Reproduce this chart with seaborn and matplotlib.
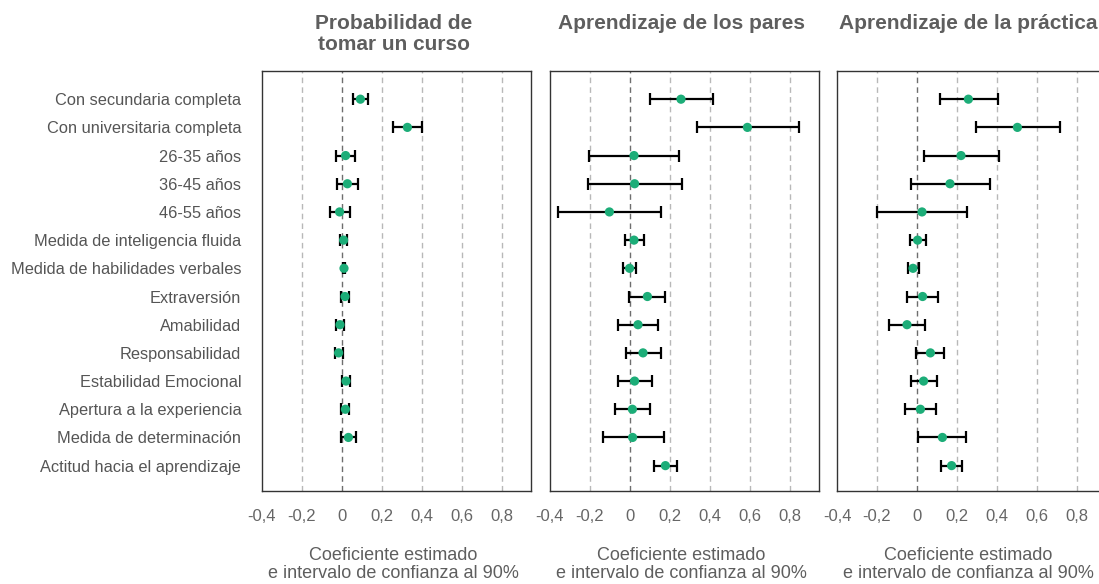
import numpy as np
import pandas as pd
import matplotlib
matplotlib.use("Agg")
import matplotlib.pyplot as plt
import seaborn as sns

# Variables (rows, top to bottom)
variables = [
    "Con secundaria completa", "Con universitaria completa", "26-35 años",
    "36-45 años", "46-55 años", "Medida de inteligencia fluida",
    "Medida de habilidades verbales", "Extraversión", "Amabilidad",
    "Responsabilidad", "Estabilidad Emocional", "Apertura a la experiencia",
    "Medida de determinación", "Actitud hacia el aprendizaje",
]

panel_titles = [["Probabilidad de", "tomar un curso"],
                ["Aprendizaje de los pares"],
                ["Aprendizaje de la práctica"]]

# Panel 1: probabilidad de tomar un curso (no estimate for the last row)
curso_est = [0.092, 0.327, 0.018, 0.027, -0.012, 0.008, 0.010, 0.015,
             -0.010, -0.017, 0.020, 0.017, 0.032, np.nan]
curso_lo = [0.053, 0.253, -0.030, -0.025, -0.060, -0.008, 0.003, -0.005,
            -0.028, -0.035, 0.002, -0.003, -0.003, np.nan]
curso_hi = [0.132, 0.402, 0.067, 0.078, 0.038, 0.027, 0.017, 0.035,
            0.012, 0.003, 0.038, 0.037, 0.070, np.nan]

# Panel 2: aprendizaje de los pares
pares_est = [0.255, 0.587, 0.020, 0.023, -0.103, 0.020, -0.002, 0.087,
             0.040, 0.065, 0.023, 0.012, 0.013, 0.177]
pares_lo = [0.098, 0.333, -0.203, -0.208, -0.362, -0.027, -0.035, -0.007,
            -0.062, -0.022, -0.062, -0.077, -0.137, 0.118]
pares_hi = [0.417, 0.843, 0.247, 0.258, 0.157, 0.070, 0.030, 0.177,
            0.138, 0.153, 0.108, 0.100, 0.168, 0.237]

# Panel 3: aprendizaje de la práctica
practica_est = [0.257, 0.502, 0.220, 0.165, 0.025, 0.003, -0.020, 0.028,
                -0.050, 0.067, 0.033, 0.017, 0.127, 0.173]
practica_lo = [0.115, 0.293, 0.035, -0.030, -0.202, -0.035, -0.047, -0.048,
               -0.138, -0.003, -0.032, -0.060, 0.007, 0.120]
practica_hi = [0.405, 0.715, 0.408, 0.363, 0.252, 0.045, 0.008, 0.105,
               0.038, 0.135, 0.102, 0.093, 0.247, 0.225]

x_ticks = [-0.4, -0.2, 0, 0.2, 0.4, 0.6, 0.8]
x_tick_labels = ["-0,4", "-0,2", "0", "0,2", "0,4", "0,6", "0,8"]
x_label = ["Coeficiente estimado", "e intervalo de confianza al 90%"]

panels = [
    (curso_est, curso_lo, curso_hi),
    (pares_est, pares_lo, pares_hi),
    (practica_est, practica_lo, practica_hi),
]

sns.set_style("white")
plt.rcParams["font.family"] = ["Liberation Sans", "DejaVu Sans"]

GREEN = "#1cad78"
TEXT = "#555555"

fig = plt.figure(figsize=(10.99, 5.84), dpi=100)
W, H = 1099, 584
lefts = [262, 550, 837]
AX_W = 269

for i, (est, lo, hi) in enumerate(panels):
    ax = fig.add_axes([lefts[i] / W, 1 - 491 / H, AX_W / W, 420 / H])
    df = pd.DataFrame({"pos": np.arange(len(variables)), "est": est,
                       "lo": lo, "hi": hi}).dropna()

    # dashed vertical guides, darker at zero
    for t in x_ticks[1:]:
        ax.axvline(t, color="#6e6e6e" if t == 0 else "#b8b8b8",
                   lw=1.0, ls=(0, (4, 3)), zorder=0)

    ax.errorbar(df["est"], df["pos"],
                xerr=[df["est"] - df["lo"], df["hi"] - df["est"]],
                fmt="none", ecolor="black", elinewidth=1.6, capsize=4,
                capthick=1.6, zorder=2)
    sns.scatterplot(data=df, x="est", y="pos", ax=ax, color=GREEN, s=44,
                    edgecolor="none", zorder=3)

    ax.set_xlim(-0.4, 0.945)
    ax.set_ylim(13.9, -1)
    ax.set_xticks(x_ticks)
    ax.set_xticklabels(x_tick_labels)
    ax.tick_params(axis="x", length=3, color="#999999", labelcolor="#666666",
                   labelsize=12, pad=10)
    ax.set_yticks(np.arange(len(variables)))
    if i == 0:
        ax.set_yticklabels(variables)
        ax.tick_params(axis="y", length=4, color="#999999", labelcolor=TEXT,
                       labelsize=11.8, pad=11)
    else:
        ax.set_yticklabels([])
        ax.tick_params(axis="y", length=0)
    ax.set_xlabel("")
    ax.set_ylabel("")
    for sp in ax.spines.values():
        sp.set_visible(True)
        sp.set_color("#333333")
        sp.set_linewidth(1.0)

    cx = (lefts[i] + AX_W / 2 - 3) / W
    for k, line in enumerate(panel_titles[i]):
        fig.text(cx, 1 - (29 + 21 * k) / H, line, ha="center",
                 va="baseline", fontsize=15, fontweight="bold",
                 color="#5e5e5e")
    for k, line in enumerate(x_label):
        fig.text(cx, 1 - (560 + 18 * k) / H, line, ha="center",
                 va="baseline", fontsize=13, color="#5e5e5e")

fig.savefig("out.png", dpi=100)
